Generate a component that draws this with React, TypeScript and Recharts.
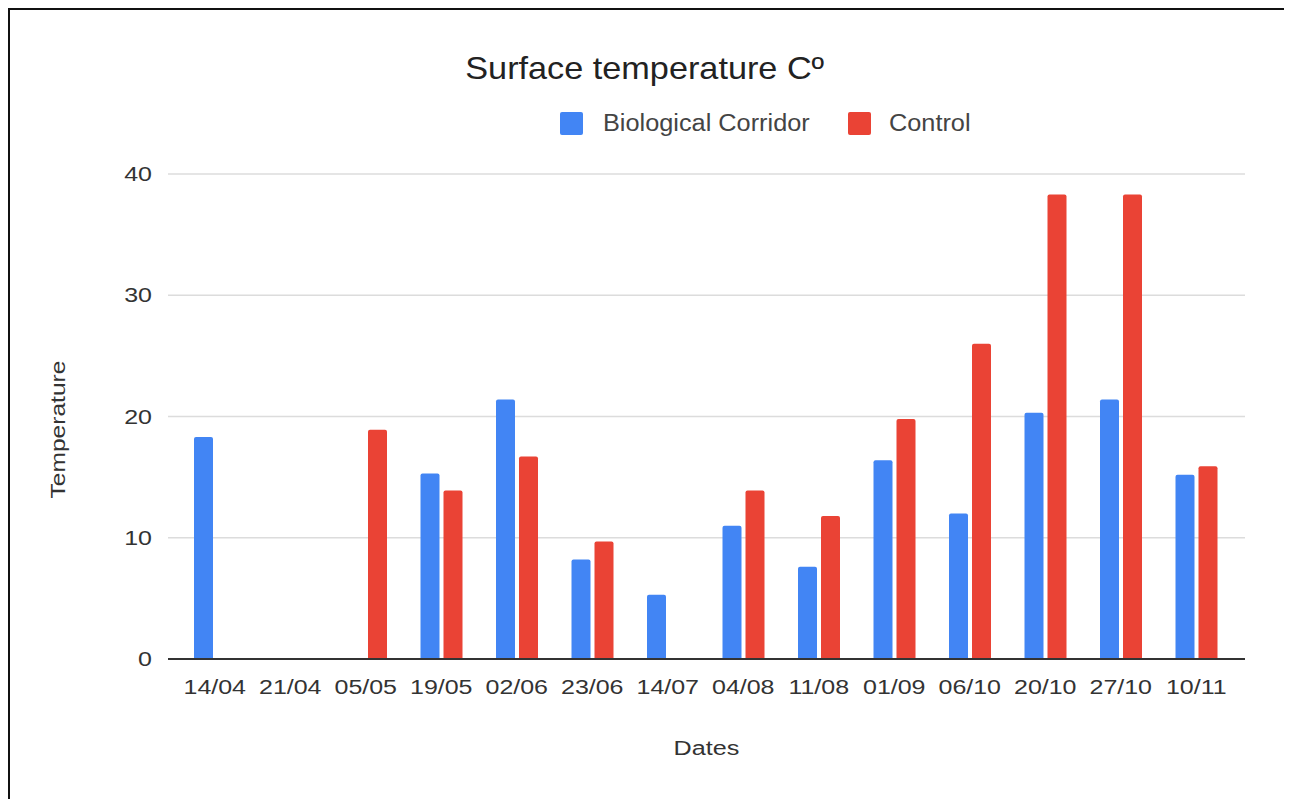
import React from 'react'
import { BarChart, Bar, XAxis, YAxis, CartesianGrid } from 'recharts'

const dates = ['14/04', '21/04', '05/05', '19/05', '02/06', '23/06', '14/07', '04/08', '11/08', '01/09', '06/10', '20/10', '27/10', '10/11']
const corridor = [18.3, null, null, 15.3, 21.4, 8.2, 5.3, 11.0, 7.6, 16.4, 12.0, 20.3, 21.4, 15.2]
const control = [null, null, 18.9, 13.9, 16.7, 9.7, null, 13.9, 11.8, 19.8, 26.0, 38.3, 38.3, 15.9]
const yTicks = [0, 10, 20, 30, 40]

const BLUE = '#4285F4'
const RED = '#EA4335'
const FONT = '"Liberation Sans", Arial, sans-serif'
// the source picture is a bit stretched sideways, so text gets widened too
const STRETCH = 1.25

const data = dates.map((d, i) => ({ date: d, corridor: corridor[i], control: control[i] }))

const series = [
  { key: 'corridor', name: 'Biological Corridor', color: BLUE, square: 550, text: 593 },
  { key: 'control', name: 'Control', color: RED, square: 838, text: 879 },
]

const XTick = (props: any) => {
  const { x, y, payload } = props
  return (
    <text transform={`translate(${x},${y}) scale(${STRETCH},1)`} x={0} y={0} dy="0.71em" textAnchor="middle" fontSize={20} fill="#333" fontFamily={FONT}>
      {payload.value}
    </text>
  )
}

const YTick = (props: any) => {
  const { x, y, payload } = props
  return (
    <text transform={`translate(${x},${y}) scale(${STRETCH},1)`} x={0} y={0} dy="0.355em" textAnchor="end" fontSize={20} fill="#333" fontFamily={FONT}>
      {payload.value}
    </text>
  )
}

const YTitle = (props: any) => {
  const vb = props.viewBox
  const x = vb.x - 50
  const y = vb.y + vb.height / 2 + 13
  return (
    <text transform={`translate(${x},${y}) rotate(-90) scale(1.17,1)`} x={0} y={0} textAnchor="middle" dominantBaseline="central" fontSize={21} fill="#333" fontFamily={FONT}>
      Temperature
    </text>
  )
}

const XTitle = (props: any) => {
  const vb = props.viewBox
  const x = vb.x + vb.width / 2
  const y = vb.y + 89
  return (
    <text transform={`translate(${x},${y}) scale(1.2,1)`} x={0} y={0} textAnchor="middle" dominantBaseline="central" fontSize={21} fill="#333" fontFamily={FONT}>
      Dates
    </text>
  )
}

export default function App() {
  return (
    <div style={{ position: 'relative', width: 1278, height: 800, border: '2px solid #111', boxSizing: 'border-box', background: '#fff', fontFamily: FONT }}>
      <div style={{ position: 'absolute', top: 40, left: 0, width: 1270, textAlign: 'center', fontSize: 32, color: '#222' }}>
        <span style={{ display: 'inline-block', transform: 'scaleX(1.07)' }}>Surface temperature Cº</span>
      </div>
      {series.map((s) => (
        <React.Fragment key={s.key}>
          <div style={{ position: 'absolute', top: 102, left: s.square, width: 23, height: 23, background: s.color, borderRadius: 2 }} />
          <div style={{ position: 'absolute', top: 99, left: s.text, fontSize: 23, color: '#444', lineHeight: '28px', whiteSpace: 'nowrap', transform: 'scaleX(1.1)', transformOrigin: 'left center' }}>
            {s.name}
          </div>
        </React.Fragment>
      ))}
      <BarChart
        width={1274}
        height={780}
        data={data}
        margin={{ top: 164, right: 39, left: 98, bottom: 31 }}
        barSize={19}
        barGap={4}
      >
        <CartesianGrid vertical={false} stroke="#dcdcdc" strokeWidth={1.5} />
        <XAxis
          dataKey="date"
          height={100}
          padding={{ left: 9, right: 11 }}
          tickLine={false}
          axisLine={{ stroke: '#333', strokeWidth: 2 }}
          tickSize={6}
          tickMargin={15}
          interval={0}
          tick={XTick}
          label={{ content: XTitle }}
        />
        <YAxis
          width={60}
          domain={[0, 40]}
          ticks={yTicks}
          axisLine={false}
          tickLine={false}
          tickSize={6}
          tickMargin={10}
          tick={YTick}
          label={{ content: YTitle }}
        />
        {series.map((s) => (
          <Bar key={s.key} dataKey={s.key} name={s.name} fill={s.color} radius={[2, 2, 0, 0]} isAnimationActive={false} />
        ))}
      </BarChart>
    </div>
  )
}
